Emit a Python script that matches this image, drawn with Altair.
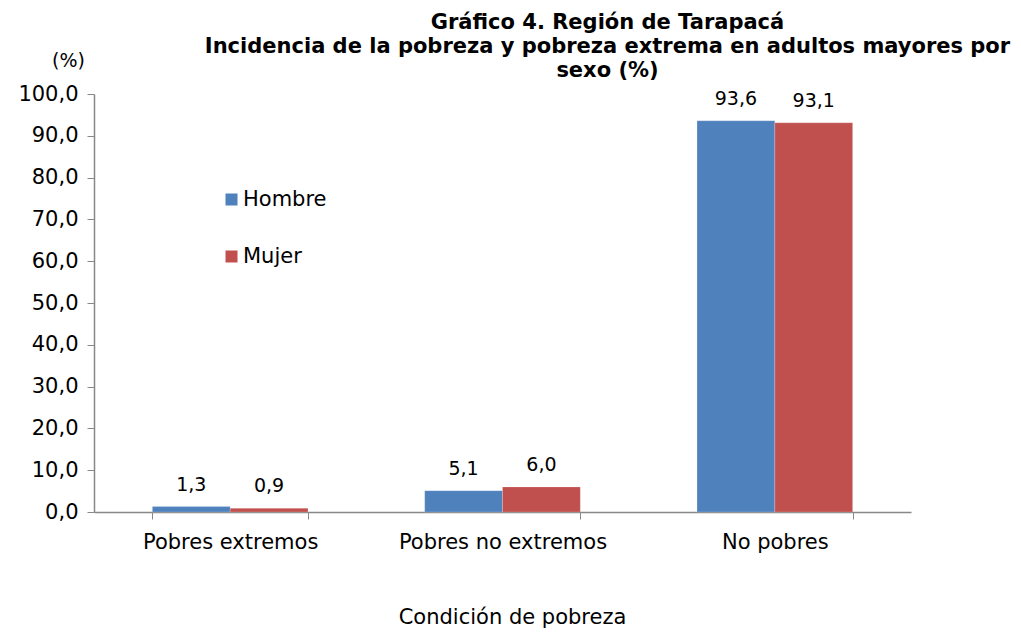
import altair as alt
import pandas as pd

categorias = ["Pobres extremos", "Pobres no extremos", "No pobres"]
hombre = [1.3, 5.1, 93.6]
mujer = [0.9, 6.0, 93.1]
sexos = ["Hombre", "Mujer"]
colores = ["#4F81BD", "#C0504D"]

rows = []
for i, c in enumerate(categorias):
    rows.append({"cat": c, "sexo": "Hombre", "v": hombre[i]})
    rows.append({"cat": c, "sexo": "Mujer", "v": mujer[i]})
df = pd.DataFrame(rows)

FONT = "DejaVu Sans"
FS = 21

base = alt.Chart(df).encode(
    x=alt.X("cat:N", sort=categorias,
            scale=alt.Scale(paddingInner=0.4286, paddingOuter=0.2143),
            axis=alt.Axis(title="Condición de pobreza", labelAngle=0, labelLimit=0,
                          tickBand="extent", tickSize=7, labelPadding=12,
                          labelFontSize=FS, labelFont=FONT, labelColor="#000",
                          titleFontSize=FS, titleFont=FONT, titleFontWeight="normal",
                          titleColor="#000", titleX=418, titleY=115,
                          titleBaseline="bottom", titleAnchor="middle",
                          domainColor="#888", tickColor="#888", domainWidth=1.5)),
    xOffset=alt.XOffset("sexo:N", sort=sexos, scale=alt.Scale(paddingInner=0, paddingOuter=0)),
)

bars = base.mark_bar(stroke="white", strokeWidth=0.5, strokeOpacity=0.4).encode(
    y=alt.Y("v:Q", scale=alt.Scale(domain=[0, 100], nice=False),
            axis=alt.Axis(title="(%)", values=list(range(0, 101, 10)), grid=False,
                          labelExpr="replace(format(datum.value, '.1f'), '.', ',')",
                          tickSize=7, labelPadding=9, labelFontSize=FS, labelFont=FONT,
                          labelColor="#000", titleAngle=0, titleX=-26, titleY=-34,
                          titleAlign="center", titleBaseline="middle",
                          titleFontSize=19, titleFont="DejaVu Sans", titleFontWeight="normal",
                          titleColor="#000", domainColor="#888", tickColor="#888",
                          domainWidth=1.5)),
    color=alt.Color("sexo:N", sort=sexos,
                    scale=alt.Scale(domain=sexos, range=colores),
                    legend=alt.Legend(title=None, orient="none", legendX=127, legendY=95,
                                      symbolType="square", symbolSize=144,
                                      symbolStrokeWidth=0, labelFontSize=FS,
                                      labelFont=FONT, labelColor="#000",
                                      rowPadding=35, labelOffset=1, padding=0)),
)

labels = base.mark_text(baseline="middle", dy=-22, fontSize=19, font=FONT, color="#000").transform_calculate(
    lab="replace(format(datum.v, '.1f'), '.', ',')"
).encode(
    y=alt.Y("v:Q"),
    text="lab:N",
)

chart = alt.layer(bars, labels).properties(
    width=817, height=418,
    background="white",
    autosize=alt.AutoSizeParams(type="none"),
    padding={"left": 86, "top": 86, "right": 102, "bottom": 116},
    title=alt.TitleParams(
        text=["Gráfico 4. Región de Tarapacá",
              "Incidencia de la pobreza y pobreza extrema en adultos mayores por",
              "sexo (%)"],
        font=FONT, fontSize=21, fontWeight="bold", color="#000",
        anchor="middle", dx=105, dy=42, lineHeight=24, offset=12, limit=0),
).configure_view(strokeWidth=0)

chart.save("out.html", embed_options={"renderer": "svg", "actions": False})
